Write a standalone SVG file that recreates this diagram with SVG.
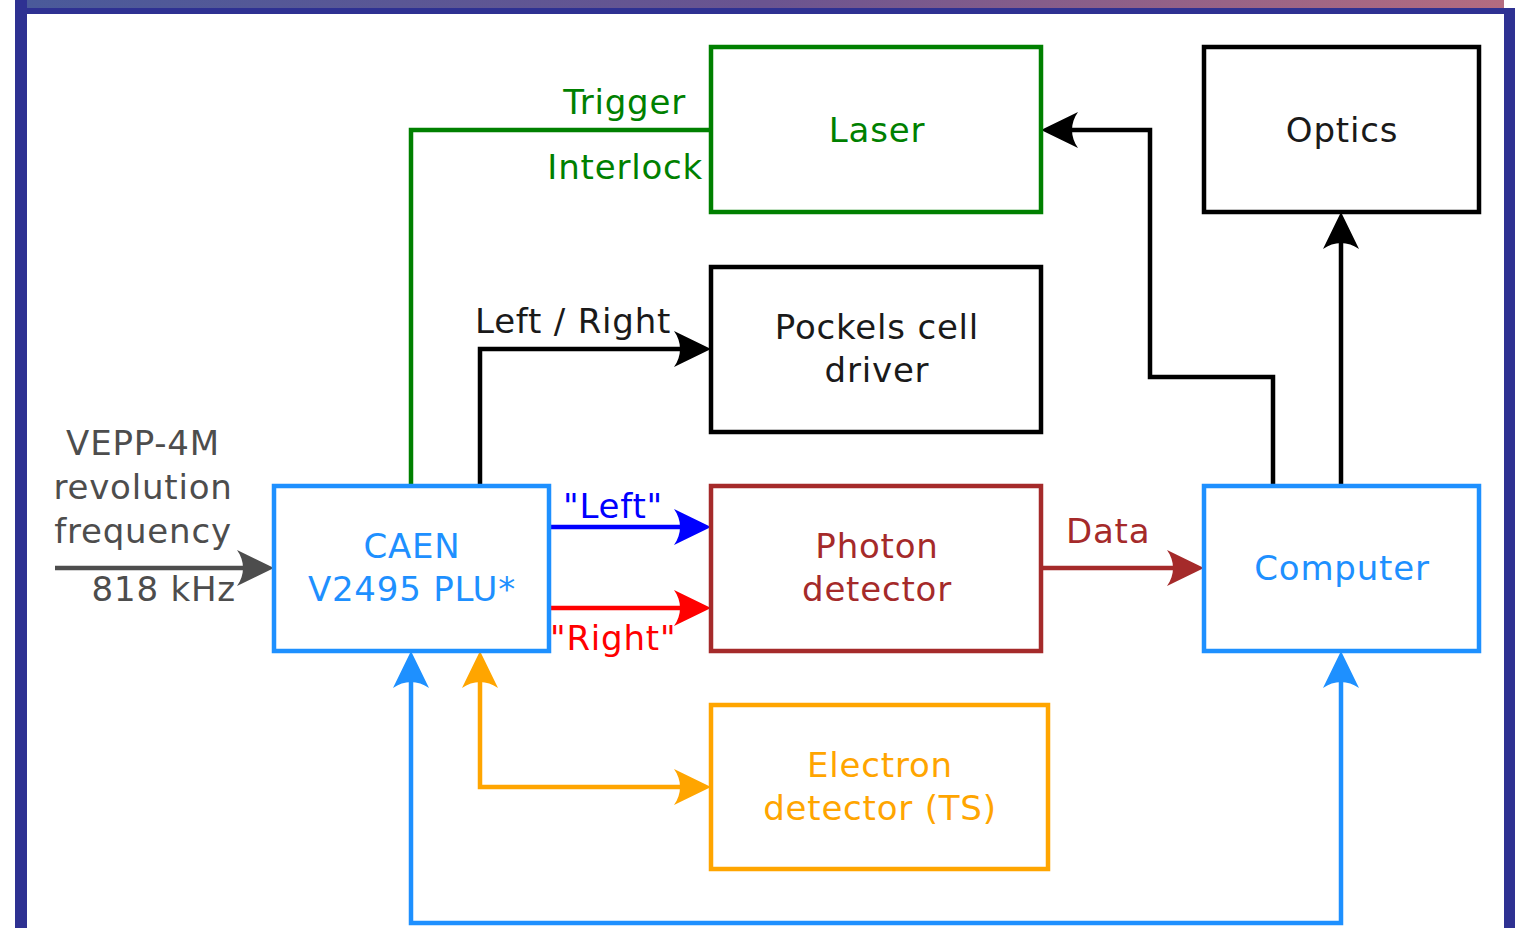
<svg xmlns="http://www.w3.org/2000/svg" width="1515" height="928" viewBox="0 0 1515 928">
<style>
text{font-family:"DejaVu Sans","Liberation Sans",sans-serif;font-size:34px;letter-spacing:0.8px}
.box{fill:#fff;stroke-width:4.5}
.ln{fill:none;stroke-width:4.5}
.m{text-anchor:middle}
.e{text-anchor:end}
</style>
<defs>
<linearGradient id="topg" x1="0" y1="0" x2="1" y2="0">
<stop offset="0" stop-color="#4a5a9a"/>
<stop offset="0.5" stop-color="#6a5490"/>
<stop offset="1" stop-color="#b46c80"/>
</linearGradient>
<marker id="aK" viewBox="-40 -20 40 40" refX="-10" refY="0" markerWidth="40" markerHeight="40" markerUnits="userSpaceOnUse" orient="auto-start-reverse"><path d="M0,0 L-37,-18 C-29,-7 -29,7 -37,18 Z" fill="#000"/></marker>
<marker id="aG" viewBox="-40 -20 40 40" refX="-10" refY="0" markerWidth="40" markerHeight="40" markerUnits="userSpaceOnUse" orient="auto-start-reverse"><path d="M0,0 L-37,-18 C-29,-7 -29,7 -37,18 Z" fill="#4d4d4d"/></marker>
<marker id="aB" viewBox="-40 -20 40 40" refX="-10" refY="0" markerWidth="40" markerHeight="40" markerUnits="userSpaceOnUse" orient="auto-start-reverse"><path d="M0,0 L-37,-18 C-29,-7 -29,7 -37,18 Z" fill="#0000ff"/></marker>
<marker id="aR" viewBox="-40 -20 40 40" refX="-10" refY="0" markerWidth="40" markerHeight="40" markerUnits="userSpaceOnUse" orient="auto-start-reverse"><path d="M0,0 L-37,-18 C-29,-7 -29,7 -37,18 Z" fill="#ff0000"/></marker>
<marker id="aBr" viewBox="-40 -20 40 40" refX="-10" refY="0" markerWidth="40" markerHeight="40" markerUnits="userSpaceOnUse" orient="auto-start-reverse"><path d="M0,0 L-37,-18 C-29,-7 -29,7 -37,18 Z" fill="#a52a2a"/></marker>
<marker id="aO" viewBox="-40 -20 40 40" refX="-10" refY="0" markerWidth="40" markerHeight="40" markerUnits="userSpaceOnUse" orient="auto-start-reverse"><path d="M0,0 L-37,-18 C-29,-7 -29,7 -37,18 Z" fill="#ffa500"/></marker>
<marker id="aD" viewBox="-40 -20 40 40" refX="-10" refY="0" markerWidth="40" markerHeight="40" markerUnits="userSpaceOnUse" orient="auto-start-reverse"><path d="M0,0 L-37,-18 C-29,-7 -29,7 -37,18 Z" fill="#1e90ff"/></marker>
</defs>
<rect width="1515" height="928" fill="#fff"/>
<g id="frame">
<rect x="27" y="0" width="1477" height="8" fill="url(#topg)"/>
<rect x="15" y="0" width="12" height="928" fill="#2e3192"/>
<rect x="15" y="8" width="1500" height="6" fill="#2e3192"/>
<rect x="1504" y="8" width="11" height="920" fill="#2e3192"/>
</g>
<g id="connectors">
<path class="ln" stroke="#008000" d="M411,486 V130 H711"/>
<path class="ln" stroke="#000" d="M480,486 V349 H701" marker-end="url(#aK)"/>
<path class="ln" stroke="#4d4d4d" d="M55,568 H264" marker-end="url(#aG)"/>
<path class="ln" stroke="#0000ff" d="M549,527 H701" marker-end="url(#aB)"/>
<path class="ln" stroke="#ff0000" d="M549,608 H701" marker-end="url(#aR)"/>
<path class="ln" stroke="#a52a2a" d="M1041,568 H1194" marker-end="url(#aBr)"/>
<path class="ln" stroke="#000" d="M1273,486 V377 H1150 V130 H1051" marker-end="url(#aK)"/>
<path class="ln" stroke="#000" d="M1341,486 V222" marker-end="url(#aK)"/>
<path class="ln" stroke="#ffa500" d="M480,661 V787 H701" marker-start="url(#aO)" marker-end="url(#aO)"/>
<path class="ln" stroke="#1e90ff" d="M411,661 V923 H1341 V661" marker-start="url(#aD)" marker-end="url(#aD)"/>
<text x="686" y="114" class="e" fill="#008000">Trigger</text>
<text x="703" y="179" class="e" fill="#008000">Interlock</text>
<text x="475" y="333" fill="#1a1a1a">Left / Right</text>
<text x="613" y="518" class="m" fill="#0000ff">"Left"</text>
<text x="550" y="650" fill="#ff0000">"Right"</text>
<text x="1066" y="543" fill="#a52a2a">Data</text>
<text x="143" y="455" class="m" fill="#4d4d4d">VEPP-4M</text>
<text x="143" y="499" class="m" fill="#4d4d4d">revolution</text>
<text x="143" y="543" class="m" fill="#4d4d4d">frequency</text>
<text x="236" y="601" class="e" fill="#4d4d4d">818 kHz</text>
</g>
<g id="laser"><rect class="box" x="711" y="47" width="330" height="165" stroke="#008000"/><text x="877" y="142" class="m" fill="#008000">Laser</text></g>
<g id="optics"><rect class="box" x="1204" y="47" width="275" height="165" stroke="#000"/><text x="1342" y="142" class="m" fill="#1a1a1a">Optics</text></g>
<g id="pockels"><rect class="box" x="711" y="267" width="330" height="165" stroke="#000"/><text x="877" y="339" class="m" fill="#1a1a1a">Pockels cell</text><text x="877" y="382" class="m" fill="#1a1a1a">driver</text></g>
<g id="photon"><rect class="box" x="711" y="486" width="330" height="165" stroke="#a52a2a"/><text x="877" y="558" class="m" fill="#a52a2a">Photon</text><text x="877" y="601" class="m" fill="#a52a2a">detector</text></g>
<g id="caen"><rect class="box" x="274" y="486" width="275" height="165" stroke="#1e90ff"/><text x="412" y="558" class="m" fill="#1e90ff">CAEN</text><text x="412" y="601" class="m" fill="#1e90ff">V2495 PLU*</text></g>
<g id="computer"><rect class="box" x="1204" y="486" width="275" height="165" stroke="#1e90ff"/><text x="1342" y="580" class="m" fill="#1e90ff">Computer</text></g>
<g id="electron"><rect class="box" x="711" y="705" width="337" height="164" stroke="#ffa500"/><text x="880" y="777" class="m" fill="#ffa500">Electron</text><text x="880" y="820" class="m" fill="#ffa500">detector (TS)</text></g>
</svg>
